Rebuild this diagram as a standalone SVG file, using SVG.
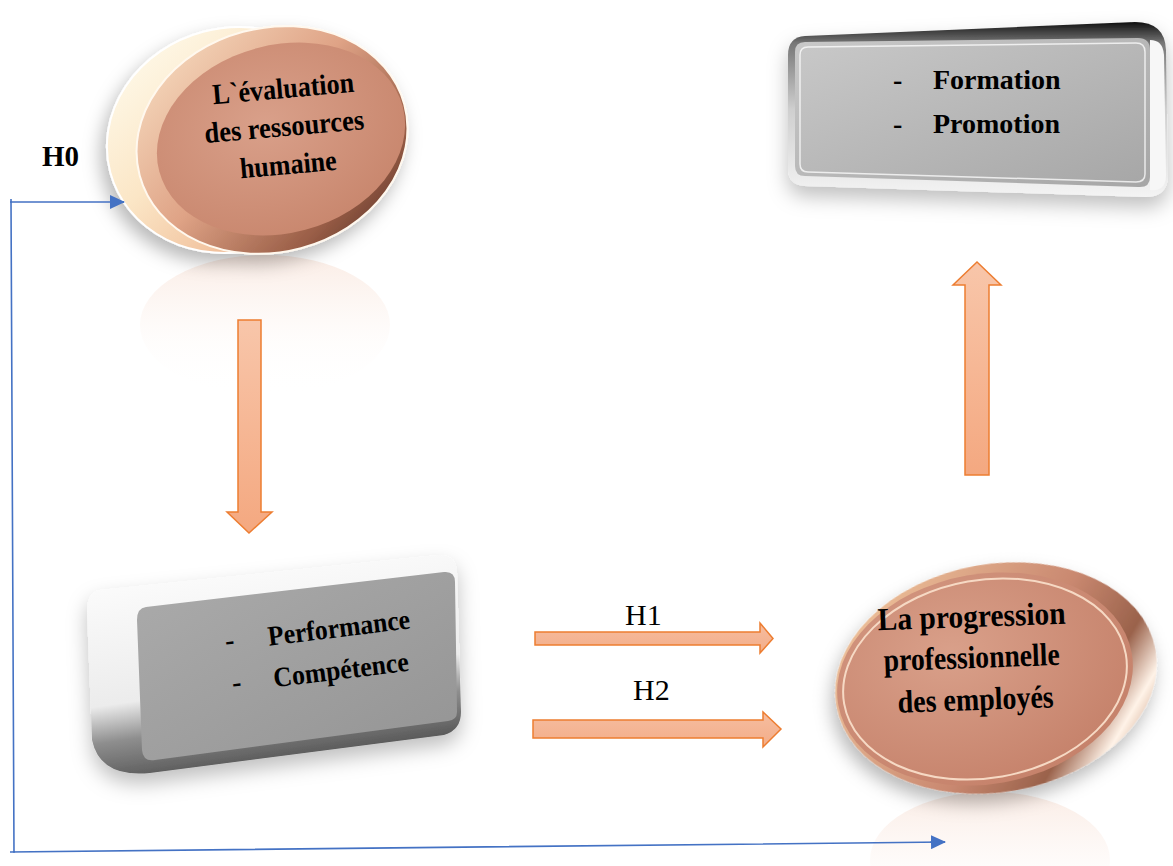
<svg xmlns="http://www.w3.org/2000/svg" width="1173" height="866" viewBox="0 0 1173 866">
<defs>
<style>
.blk{stroke:#ED7D31;stroke-width:1.5;stroke-linejoin:miter}
.lbl{font-family:"Liberation Serif","Times New Roman",serif;fill:#000}
.b{font-weight:bold}
.blue{fill:none;stroke:#4472C4;stroke-width:1.6}
</style>
<linearGradient id="ogv" x1="0" y1="0" x2="0" y2="1"><stop offset="0" stop-color="#F8C6AA"/><stop offset="1" stop-color="#F4A880"/></linearGradient>
<linearGradient id="ogh" x1="0" y1="0" x2="0" y2="1"><stop offset="0" stop-color="#F6BDA0"/><stop offset="1" stop-color="#F3AD88"/></linearGradient>
<linearGradient id="cream" x1="0" y1="0" x2="0.6" y2="1"><stop offset="0" stop-color="#FFFDF0"/><stop offset="0.5" stop-color="#FBE6C6"/><stop offset="1" stop-color="#EDB38E"/></linearGradient>
<linearGradient id="rim1" x1="0.1" y1="0" x2="0.9" y2="1"><stop offset="0" stop-color="#F7DCC0"/><stop offset="0.45" stop-color="#DFA386"/><stop offset="0.8" stop-color="#9A5E47"/><stop offset="1" stop-color="#5A3326"/></linearGradient>
<radialGradient id="face1" cx="0.45" cy="0.4" r="0.65"><stop offset="0" stop-color="#D9A08A"/><stop offset="1" stop-color="#C8866D"/></radialGradient>
<linearGradient id="rim2" x1="0" y1="0.2" x2="1" y2="0.8"><stop offset="0" stop-color="#F0C49C"/><stop offset="0.55" stop-color="#C98870"/><stop offset="0.78" stop-color="#9A624B"/><stop offset="0.9" stop-color="#FFF3E8"/><stop offset="1" stop-color="#C7967A"/></linearGradient>
<radialGradient id="face2" cx="0.4" cy="0.35" r="0.7"><stop offset="0" stop-color="#D9A08A"/><stop offset="1" stop-color="#C5816A"/></radialGradient>
<linearGradient id="frameT" x1="0" y1="0" x2="0" y2="1"><stop offset="0" stop-color="#111"/><stop offset="0.12" stop-color="#777"/><stop offset="0.5" stop-color="#CFCFCF"/><stop offset="1" stop-color="#F4F4F4"/></linearGradient>
<linearGradient id="faceG1" x1="0" y1="0" x2="1" y2="1"><stop offset="0" stop-color="#C9C9C9"/><stop offset="1" stop-color="#A6A6A6"/></linearGradient>
<linearGradient id="bodyB" x1="0" y1="0" x2="0.25" y2="1"><stop offset="0" stop-color="#FFFFFF"/><stop offset="0.66" stop-color="#ECECEC"/><stop offset="0.82" stop-color="#8E8E8E"/><stop offset="1" stop-color="#5A5A5A"/></linearGradient>
<linearGradient id="faceG2" x1="0" y1="0" x2="1" y2="1"><stop offset="0" stop-color="#ABABAB"/><stop offset="1" stop-color="#949494"/></linearGradient>
<linearGradient id="refl" x1="0" y1="0" x2="0" y2="1"><stop offset="0" stop-color="#F2C9B4" stop-opacity="0.35"/><stop offset="0.6" stop-color="#F8E0D4" stop-opacity="0.08"/><stop offset="1" stop-color="#FFFFFF" stop-opacity="0"/></linearGradient>
<filter id="sh" x="-30%" y="-30%" width="160%" height="170%"><feDropShadow dx="-5" dy="9" stdDeviation="9" flood-color="#000" flood-opacity="0.28"/></filter>
<filter id="sh2" x="-30%" y="-30%" width="160%" height="170%"><feDropShadow dx="0" dy="10" stdDeviation="10" flood-color="#000" flood-opacity="0.25"/></filter>
<marker id="ah" markerUnits="userSpaceOnUse" markerWidth="15" markerHeight="14" refX="14" refY="7" orient="auto-start-reverse"><path d="M0,0 L15,7 L0,14 Z" fill="#4472C4"/></marker>
</defs>
<rect width="1173" height="866" fill="#FFFFFF"/>

<!-- reflections -->
<ellipse cx="265" cy="325" rx="125" ry="70" fill="url(#refl)"/>
<ellipse cx="990" cy="860" rx="120" ry="68" fill="url(#refl)"/>

<g id="node-evaluation">
<g filter="url(#sh)">
<ellipse cx="232" cy="140" rx="126" ry="112" transform="rotate(-15 232 140)" fill="url(#cream)" stroke="#FFFFFF" stroke-width="2"/>
<ellipse cx="272" cy="140" rx="137" ry="112" transform="rotate(-15 272 140)" fill="url(#rim1)" stroke="#FFF8EE" stroke-width="2"/>
</g>
<ellipse cx="281" cy="139" rx="126" ry="94" transform="rotate(-15 281 139)" fill="url(#face1)"/>
<text class="lbl b" x="284" y="98" font-size="29" text-anchor="middle" textLength="142" lengthAdjust="spacingAndGlyphs" transform="rotate(-5 284 98)">L`évaluation</text>
<text class="lbl b" x="285" y="136" font-size="29" text-anchor="middle" textLength="160" lengthAdjust="spacingAndGlyphs" transform="rotate(-5 285 136)">des ressources</text>
<text class="lbl b" x="289" y="174" font-size="29" text-anchor="middle" textLength="97" lengthAdjust="spacingAndGlyphs" transform="rotate(-5 289 174)">humaine</text>
</g>

<g id="node-formation">
<path filter="url(#sh2)" d="M805,36 L1135,22 Q1165,22 1166,50 L1168,175 Q1168,197 1145,197 L805,186 Q788,185 788,168 L788,55 Q788,37 805,36 Z" fill="url(#frameT)"/>
<path d="M1150,40 Q1163,40 1164,55 L1166,175 Q1166,192 1150,190 Z" fill="#F7F7F7"/>
<path d="M805,42 L1138,38 Q1150,38 1150,50 L1150,177 Q1150,188 1138,187 L805,176 Q795,176 795,166 L795,52 Q795,42 805,42 Z" fill="url(#faceG1)"/>
<path d="M808,47 L1136,43 Q1145,43 1145,52 L1145,174 Q1145,182 1136,182 L808,172 Q800,172 800,164 L800,55 Q800,47 808,47 Z" fill="none" stroke="#FFFFFF" stroke-opacity="0.75" stroke-width="1.5"/>
<text class="lbl b" x="893" y="89" font-size="28">-</text>
<text class="lbl b" x="933" y="89" font-size="28">Formation</text>
<text class="lbl b" x="893" y="133" font-size="28">-</text>
<text class="lbl b" x="933" y="133" font-size="28">Promotion</text>
</g>

<g id="node-performance">
<path filter="url(#sh2)" d="M100,590 L438,555 Q456,554 457,572 L461,712 Q461,730 444,735 L150,773 Q100,778 92,740 L87,612 Q87,592 100,590 Z" fill="url(#bodyB)"/>
<path d="M146,607 L444,572 Q455,571 455,582 L457,712 Q457,720 448,721 L155,760 Q143,762 142,750 L137,620 Q137,608 146,607 Z" fill="url(#faceG2)"/>
<text class="lbl b" x="226" y="650" font-size="28" transform="rotate(-7 226 650)">-</text>
<text class="lbl b" x="340" y="637" font-size="28" text-anchor="middle" textLength="143" lengthAdjust="spacingAndGlyphs" transform="rotate(-7 340 637)">Performance</text>
<text class="lbl b" x="233" y="692" font-size="28" transform="rotate(-7 233 692)">-</text>
<text class="lbl b" x="342" y="679" font-size="28" text-anchor="middle" textLength="136" lengthAdjust="spacingAndGlyphs" transform="rotate(-7 342 679)">Compétence</text>
</g>

<g id="node-progression">
<ellipse filter="url(#sh)" cx="996" cy="678" rx="162" ry="114" transform="rotate(-10 996 678)" fill="url(#rim2)"/>
<ellipse cx="985" cy="679" rx="149" ry="105" transform="rotate(-10 985 679)" fill="url(#face2)"/>
<ellipse cx="985" cy="679" rx="143" ry="99" transform="rotate(-10 985 679)" fill="none" stroke="#F6D9C4" stroke-width="2"/>
<text class="lbl b" x="972" y="627" font-size="32" text-anchor="middle" textLength="188" lengthAdjust="spacingAndGlyphs" transform="rotate(-2 972 627)">La progression</text>
<text class="lbl b" x="972" y="668" font-size="32" text-anchor="middle" textLength="176" lengthAdjust="spacingAndGlyphs" transform="rotate(-2 972 668)">professionnelle</text>
<text class="lbl b" x="976" y="710" font-size="32" text-anchor="middle" textLength="156" lengthAdjust="spacingAndGlyphs" transform="rotate(-2 976 710)">des employés</text>
</g>

<g id="connectors">
<path class="blk" fill="url(#ogv)" d="M238,320 H261 V512 H272 L249,533 L227,512 H238 Z"/>
<path class="blk" fill="url(#ogv)" d="M965,475 V285 H953 L977,262 L1001,285 H989 V475 Z"/>
<path class="blk" fill="url(#ogh)" d="M535,632 H760 V623 L773,638.5 L760,653 V645 H535 Z"/>
<path class="blk" fill="url(#ogh)" d="M533,720 H763 V712 L781,729 L763,747 V738 H533 Z"/>
<path class="blue" d="M124,202 L10,202 M11,199 L14,853 M10,852 L945,842" />
<path class="blue" d="M110,202 L124,202" marker-end="url(#ah)"/>
<path class="blue" d="M930,842.2 L945,842" marker-end="url(#ah)"/>
</g>

<g id="labels">
<text class="lbl b" x="42" y="166" font-size="29">H0</text>
<text class="lbl" x="625" y="625" font-size="30">H1</text>
<text class="lbl" x="633" y="700" font-size="30">H2</text>
</g>
</svg>
